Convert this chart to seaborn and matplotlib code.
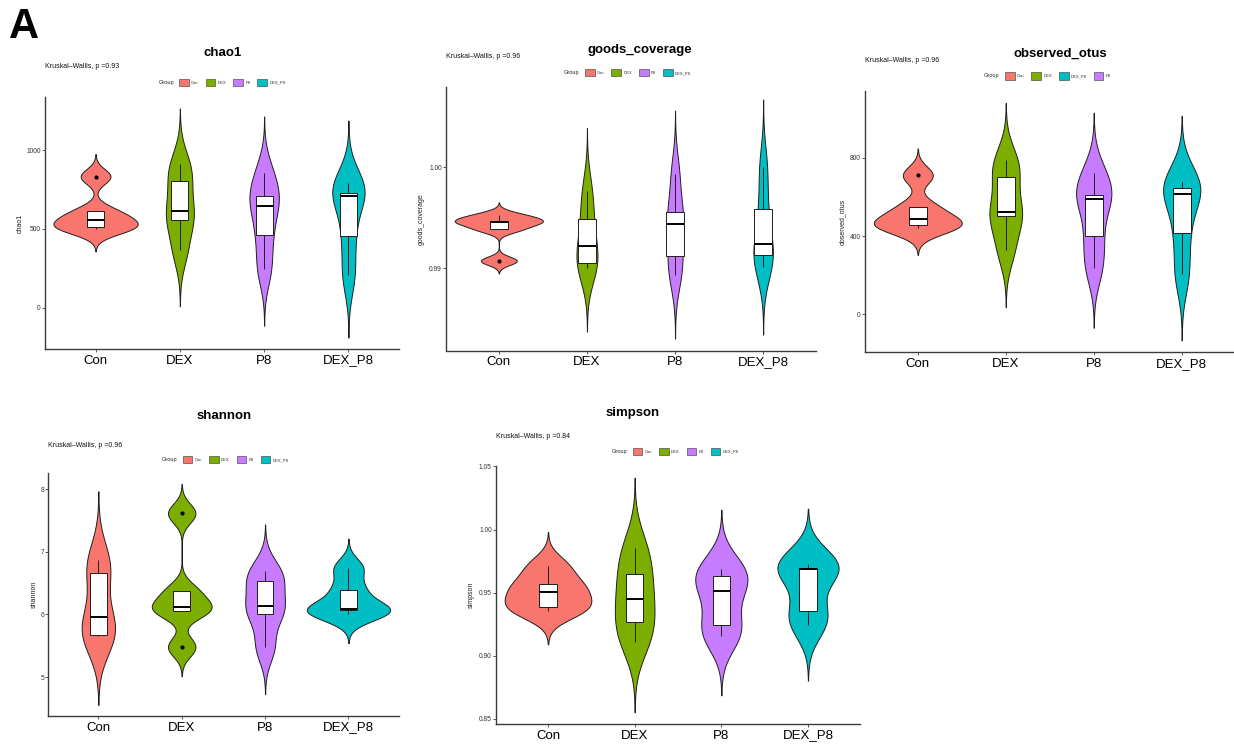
import numpy as np
import pandas as pd
import matplotlib
matplotlib.use("Agg")
import matplotlib.pyplot as plt
from matplotlib.patches import Patch
import seaborn as sns

# ---------------------------------------------------------------- data
GROUPS = ["Con", "DEX", "P8", "DEX_P8"]
GROUP_COLORS = ["#F8766D", "#7CAE00", "#C77CFF", "#00BFC4"]

# alpha-diversity indices, five samples per group (order: Con, DEX, P8, DEX_P8)
chao1 = [
    [500, 513, 559, 611, 833],
    [363, 559, 616, 802, 911],
    [245, 460, 648, 707, 854],
    [205, 458, 710, 729, 793],
]
goods_coverage = [
    [0.99076, 0.99386, 0.99455, 0.99472, 0.99528],
    [0.99000, 0.99056, 0.99224, 0.99485, 0.99766],
    [0.98934, 0.99125, 0.99439, 0.99554, 0.99934],
    [0.99017, 0.99132, 0.99244, 0.99591, 1.00000],
]
observed_otus = [
    [441, 454, 485, 548, 710],
    [329, 500, 524, 700, 788],
    [238, 398, 587, 608, 723],
    [204, 414, 614, 645, 676],
]
shannon = [
    [5.660, 5.667, 5.955, 6.660, 6.863],
    [5.480, 6.051, 6.121, 6.372, 7.616],
    [5.475, 6.014, 6.137, 6.527, 6.691],
    [6.009, 6.078, 6.089, 6.398, 6.745],
]
simpson = [
    [0.93571, 0.93889, 0.95026, 0.95714, 0.97143],
    [0.91085, 0.92672, 0.94497, 0.96481, 0.98545],
    [0.91534, 0.92407, 0.95132, 0.96349, 0.96905],
    [0.92434, 0.93545, 0.96905, 0.96931, 0.97249],
]

kruskal_p = {"chao1": "0.93", "goods_coverage": "0.96", "observed_otus": "0.96",
             "shannon": "0.96", "simpson": "0.84"}

y_ticks = {
    "chao1": [0, 500, 1000],
    "goods_coverage": [0.99, 1.00],
    "observed_otus": [0, 400, 800],
    "shannon": [5, 6, 7, 8],
    "simpson": [0.85, 0.90, 0.95, 1.00, 1.05],
}
y_tick_fmt = {"chao1": "{:.0f}", "goods_coverage": "{:.2f}", "observed_otus": "{:.0f}",
              "shannon": "{:.0f}", "simpson": "{:.2f}"}

legend_order = {
    "chao1": GROUPS, "goods_coverage": GROUPS,
    "observed_otus": ["Con", "DEX", "DEX_P8", "P8"],
    "shannon": GROUPS, "simpson": GROUPS,
}

# ---------------------------------------------------------------- style
sns.set_theme(style="ticks")
plt.rcParams["font.family"] = ["Liberation Sans", "DejaVu Sans"]

W, H = 1234, 750
fig = plt.figure(figsize=(W / 100, H / 100), dpi=100)
fig.patch.set_facecolor("white")


def fx(x):
    return x / W


def fy(y):
    return 1 - y / H


def nrd0(kde):
    """Silverman's rule of thumb (R's bw.nrd0), returned as a factor of the sd."""
    x = np.asarray(kde.dataset, dtype=float).ravel()
    sd = x.std(ddof=1)
    q75, q25 = np.percentile(x, [75, 25])
    lo = min(sd, (q75 - q25) / 1.34)
    if lo <= 0:
        lo = sd
    return 0.9 * lo * len(x) ** -0.2 / sd


color_of = dict(zip(GROUPS, GROUP_COLORS))
LINE = "#1f1f1f"
AXIS = "#3c3c3c"

# panel layout in pixels: axes (left, top, right, bottom), title, test text, legend, y label
layout = {
    "chao1": dict(rect=(45, 97, 399, 349), title=(223, 56), kw=(45, 66.3),
                  leg=(158.3, 82.3), ylab=23.3),
    "goods_coverage": dict(rect=(446, 87.5, 816, 350.5), title=(640, 53.5), kw=(446, 56.7),
                           leg=(564, 72.7), ylab=425),
    "observed_otus": dict(rect=(865, 91, 1234.5, 352.3), title=(1060, 56.5), kw=(865, 60.7),
                          leg=(984, 76), ylab=846),
    "shannon": dict(rect=(48.3, 473, 398.5, 716), title=(224.3, 419.3), kw=(48.3, 445),
                    leg=(161.7, 459.7), ylab=37.3),
    "simpson": dict(rect=(496, 466, 860, 724), title=(632.3, 415.5), kw=(496, 436),
                    leg=(611.7, 451.3), ylab=474.3),
}

metrics = {
    "chao1": chao1, "goods_coverage": goods_coverage, "observed_otus": observed_otus,
    "shannon": shannon, "simpson": simpson,
}

for name, values in metrics.items():
    lay = layout[name]
    l, t, r, b = lay["rect"]
    ax = fig.add_axes([fx(l), fy(b), (r - l) / W, (b - t) / H])

    df = pd.DataFrame({
        "Group": np.repeat(GROUPS, [len(v) for v in values]),
        name: np.concatenate([np.asarray(v, dtype=float) for v in values]),
    })

    sns.violinplot(
        data=df, x="Group", y=name, hue="Group", order=GROUPS, hue_order=GROUPS,
        palette=GROUP_COLORS, saturation=1, width=1.0, cut=3, gridsize=512,
        bw_method=nrd0, density_norm="area", common_norm=True, inner=None,
        linewidth=0.7, linecolor=LINE, legend=False, ax=ax,
    )
    sns.boxplot(
        data=df, x="Group", y=name, order=GROUPS, width=0.2, color="white",
        saturation=1, linecolor=LINE, linewidth=0.7, showcaps=False, fliersize=2,
        flierprops=dict(marker="o", markerfacecolor="black", markeredgecolor="black"),
        medianprops=dict(linewidth=1.4, color="black"),
        ax=ax,
    )

    ax.set_xlim(-0.6, 3.6)
    ax.set_xlabel("")
    ax.set_ylabel(name, fontsize=5, color="#222222")
    ax.yaxis.set_label_coords((lay["ylab"] - l) / (r - l), 0.5)
    ticks = y_ticks[name]
    ax.set_yticks(ticks)
    ax.set_yticklabels([y_tick_fmt[name].format(v) for v in ticks])
    ax.tick_params(axis="y", labelsize=4.8, length=2, width=0.6, pad=1,
                   colors=AXIS, labelcolor="#333333")
    ax.tick_params(axis="x", labelsize=9.5, length=2, width=0.6, pad=2,
                   colors=AXIS, labelcolor="black")
    for side in ("top", "right"):
        ax.spines[side].set_visible(False)
    for side in ("left", "bottom"):
        ax.spines[side].set_color(AXIS)
        ax.spines[side].set_linewidth(1.0)
    ax.set_facecolor("none")

    # title, test annotation and horizontal legend above the panel
    tx, ty = lay["title"]
    fig.text(fx(tx), fy(ty), name, ha="center", va="baseline",
             fontsize=9.5, fontweight="bold", color="black")
    kx, ky = lay["kw"]
    fig.text(fx(kx), fy(ky), f"Kruskal\u2013Wallis, p =" + kruskal_p[name],
             ha="left", va="center", fontsize=5, color="#111111")
    gx, gy = lay["leg"]
    fig.text(fx(gx), fy(gy), "Group", ha="left", va="center", fontsize=4.1,
             color="#222222")
    handles = [Patch(facecolor=color_of[g], edgecolor="#333333", linewidth=0.4, label=g)
               for g in legend_order[name]]
    fig.legend(handles=handles, loc="center left", bbox_to_anchor=(fx(gx + 21), fy(gy)),
               ncol=4, frameon=False, fontsize=3, handlelength=2.3, handleheight=2.3,
               handletextpad=0.55, columnspacing=1.7, borderpad=0, borderaxespad=0)

fig.text(fx(9), fy(38.3), "A", ha="left", va="baseline", fontsize=30,
         fontweight="bold", color="black")

fig.savefig("out.png", dpi=100, facecolor="white")
